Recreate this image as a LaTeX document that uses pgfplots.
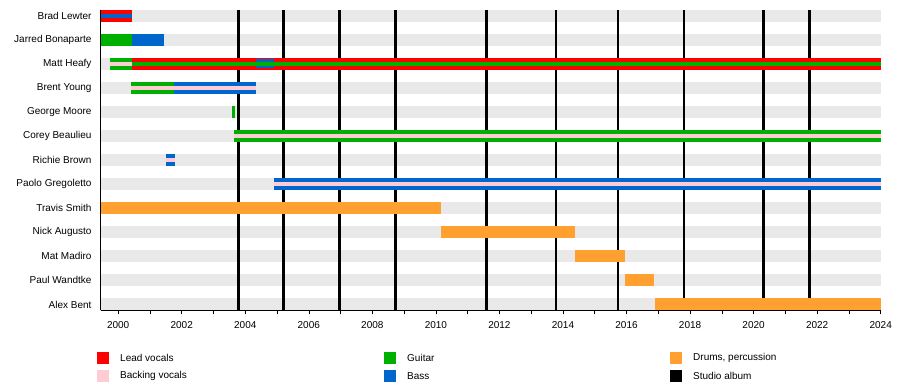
\documentclass[border=0pt]{standalone}
\usepackage{fontspec}
\setmainfont{Liberation Sans}
\usepackage{pgfplots}
\pgfplotsset{compat=1.18}
\definecolor{cred}{RGB}{255,0,0}
\definecolor{cpink}{RGB}{255,204,214}
\definecolor{cgreen}{RGB}{0,176,0}
\definecolor{cblue}{RGB}{0,102,204}
\definecolor{corange}{RGB}{255,160,48}
\definecolor{cband}{RGB}{233,233,233}
\begin{document}
\begin{tikzpicture}[font=\fontsize{10}{12}\selectfont]
\useasboundingbox (0pt,0pt) rectangle (900pt,390pt);
\begin{axis}[
  at={(100.7pt,79.5pt)}, anchor=south west,
  scale only axis, width=780pt, height=300.7pt,
  xmin=1999.45, xmax=2024, ymin=-0.25, ymax=12.25,
  axis x line*=bottom, axis y line*=left,
  axis line style={line width=1.2pt, black},
  xtick={2000,2002,2004,2006,2008,2010,2012,2014,2016,2018,2020,2022,2024},
  xticklabels={2000,2002,2004,2006,2008,2010,2012,2014,2016,2018,2020,2022,2024},
  minor xtick={2001,2003,2005,2007,2009,2011,2013,2015,2017,2019,2021,2023},
  ytick={0,1,2,3,4,5,6,7,8,9,10,11,12},
  yticklabels={Alex Bent,Paul Wandtke,Mat Madiro,Nick Augusto,Travis Smith,Paolo Gregoletto,Richie Brown,Corey Beaulieu,George Moore,Brent Young,Matt Heafy,Jarred Bonaparte,Brad Lewter},
  tick align=outside,
  x tick style={black, line width=0.6pt},
  y tick style={draw=none},
  major tick length=4pt, minor tick length=4pt,
  ticklabel style={font=\fontsize{10}{12}\selectfont},
  xticklabel style={yshift=-3pt},
  yticklabel style={inner sep=0pt, xshift=-5pt},
  unbounded coords=jump, clip=false,
]
% background bands
\addplot[cband, line width=12pt, forget plot] coordinates {
(1999.45,0)(2024,0)(2024,nan)(1999.45,1)(2024,1)(2024,nan)
(1999.45,2)(2024,2)(2024,nan)(1999.45,3)(2024,3)(2024,nan)
(1999.45,4)(2024,4)(2024,nan)(1999.45,5)(2024,5)(2024,nan)
(1999.45,6)(2024,6)(2024,nan)(1999.45,7)(2024,7)(2024,nan)
(1999.45,8)(2024,8)(2024,nan)(1999.45,9)(2024,9)(2024,nan)
(1999.45,10)(2024,10)(2024,nan)(1999.45,11)(2024,11)(2024,nan)
(1999.45,12)(2024,12)};
% studio albums
\addplot[black, line width=2.8pt, forget plot] coordinates {
(2003.78,-0.25)(2003.78,12.25)(2003.78,nan)
(2005.20,-0.25)(2005.20,12.25)(2005.20,nan)
(2006.96,-0.25)(2006.96,12.25)(2006.96,nan)
(2008.73,-0.25)(2008.73,12.25)(2008.73,nan)
(2011.60,-0.25)(2011.60,12.25)(2011.60,nan)
(2013.78,-0.25)(2013.78,12.25)(2013.78,nan)
(2015.73,-0.25)(2015.73,12.25)(2015.73,nan)
(2017.81,-0.25)(2017.81,12.25)(2017.81,nan)
(2020.30,-0.25)(2020.30,12.25)(2020.30,nan)
(2021.75,-0.25)(2021.75,12.25)};
% lead vocals
\addplot[cred, line width=12pt, forget plot] coordinates {
(1999.45,12)(2000.42,12)(2000.42,nan)
(2000.42,10)(2024,10)};
% guitar (full)
\addplot[cgreen, line width=12pt, forget plot] coordinates {
(1999.45,11)(2000.42,11)(2000.42,nan)
(1999.74,10)(2000.42,10)(2000.42,nan)
(2000.40,9)(2001.76,9)(2001.76,nan)
(2003.58,8)(2003.68,8)(2003.68,nan)
(2003.65,7)(2024,7)};
% bass (full)
\addplot[cblue, line width=12pt, forget plot] coordinates {
(2000.42,11)(2001.43,11)(2001.43,nan)
(2001.76,9)(2004.34,9)(2004.34,nan)
(2001.50,6)(2001.79,6)(2001.79,nan)
(2004.90,5)(2024,5)};
\addplot[cblue, line width=9pt, forget plot] coordinates {
(2004.34,10)(2004.90,10)};
% bass (second role)
\addplot[cblue, line width=4pt, forget plot] coordinates {
(1999.45,12)(2000.42,12)};
% guitar (second role)
\addplot[cgreen, line width=4.5pt, forget plot] coordinates {
(2000.42,10)(2024,10)};
% backing vocals (second role)
\addplot[cpink, line width=3.5pt, forget plot] coordinates {
(1999.74,10)(2000.42,10)(2000.42,nan)
(2000.40,9)(2004.34,9)(2004.34,nan)
(2003.65,7)(2024,7)(2024,nan)
(2001.50,6)(2001.79,6)(2001.79,nan)
(2004.90,5)(2024,5)};
% drums
\addplot[corange, line width=12pt, forget plot] coordinates {
(1999.45,4)(2010.16,4)(2010.16,nan)
(2010.16,3)(2014.38,3)(2014.38,nan)
(2014.38,2)(2015.94,2)(2015.94,nan)
(2015.94,1)(2016.86,1)(2016.86,nan)
(2016.90,0)(2024,0)};
\end{axis}
% legend
\fill[cred] (97pt,26pt) rectangle (109pt,38pt);
\node[anchor=west, inner sep=0pt] at (120pt,32pt) {Lead vocals};
\fill[cpink] (97pt,8pt) rectangle (109pt,20pt);
\node[anchor=west, inner sep=0pt] at (120pt,14pt) {Backing vocals};
\fill[cgreen] (384pt,26pt) rectangle (396pt,38pt);
\node[anchor=west, inner sep=0pt] at (407pt,32pt) {Guitar};
\fill[cblue] (384pt,8pt) rectangle (396pt,20pt);
\node[anchor=west, inner sep=0pt] at (407pt,14pt) {Bass};
\fill[corange] (670pt,26pt) rectangle (682pt,38pt);
\node[anchor=west, inner sep=0pt] at (693pt,32pt) {Drums, percussion};
\fill[black] (670pt,8pt) rectangle (682pt,20pt);
\node[anchor=west, inner sep=0pt] at (693pt,14pt) {Studio album};
\end{tikzpicture}
\end{document}
